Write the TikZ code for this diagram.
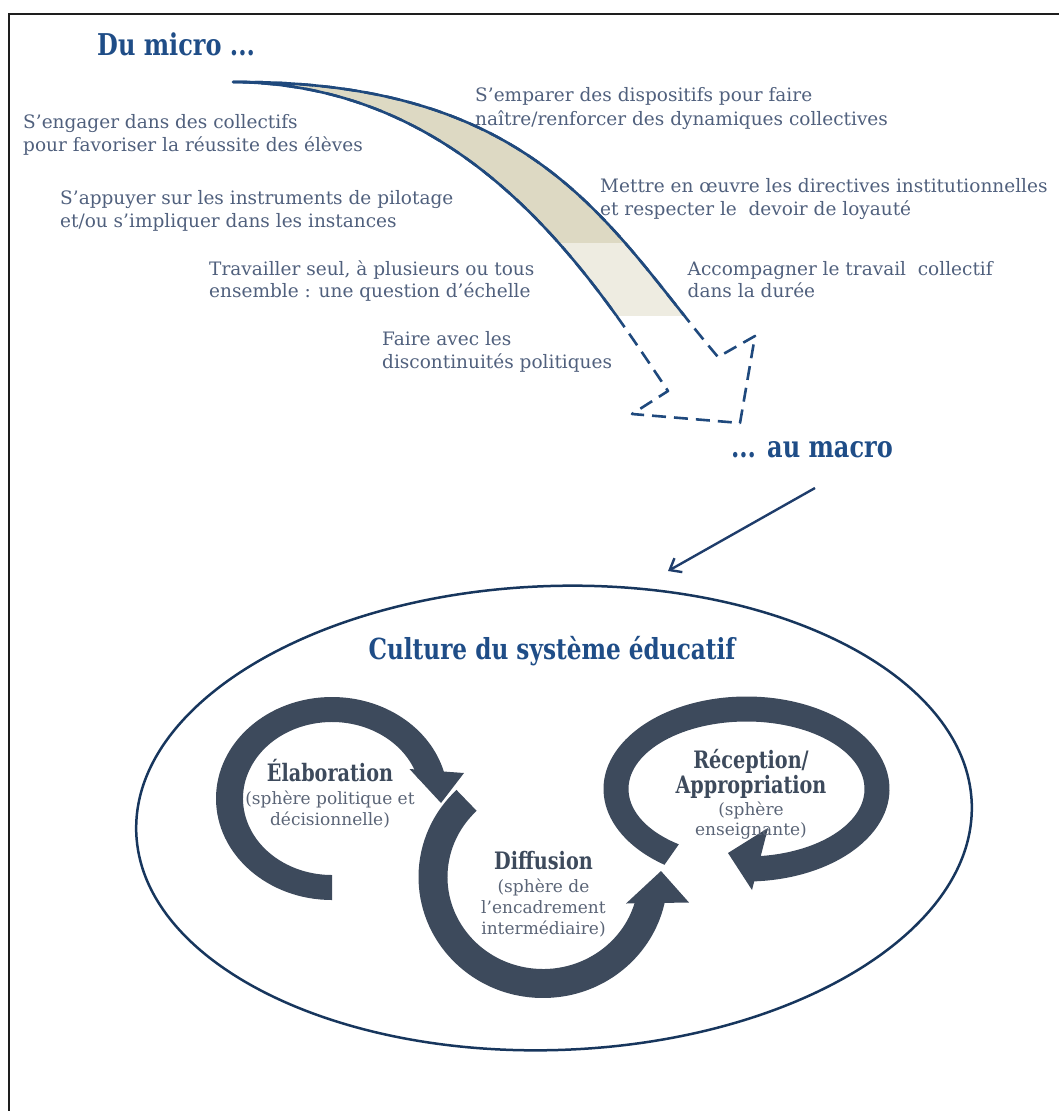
\documentclass[tikz,border=0pt]{standalone}
\usepackage{fontspec}
\setmainfont{DejaVu Serif}
\newfontfamily\titlefont{DejaVu Serif}[FakeStretch=0.8]
\usetikzlibrary{arrows.meta}
\definecolor{bodyc}{HTML}{50607D}
\definecolor{ttlc}{HTML}{1F4D87}
\definecolor{arrowc}{HTML}{1F497D}
\definecolor{ellc}{HTML}{17365D}
\definecolor{ringc}{HTML}{3D4A5C}
\definecolor{subc}{HTML}{5A6476}
\definecolor{tanD}{HTML}{DDD9C3}
\definecolor{tanL}{HTML}{EEECE1}
\definecolor{framec}{HTML}{1E1E1E}
\definecolor{linkc}{HTML}{1F3D6B}
\newcommand\bigarrowpath{(233,82) .. controls (540,80) and (610,230) .. (718,357) -- (755,336) -- (740,423) -- (632,414) -- (668,391) .. controls (590,275) and (470,84) .. (233,82) -- cycle}
\begin{document}
\begin{tikzpicture}[x=1pt,y=1pt,yscale=-1,
  bodytxt/.style={font=\fontsize{18.5}{23}\selectfont, text=bodyc, anchor=base west, inner sep=0pt},
  ttl/.style={font=\titlefont\bfseries\fontsize{30}{36}\selectfont, text=ttlc, inner sep=0pt},
  rlab/.style={font=\titlefont\bfseries\fontsize{24}{28}\selectfont, text=ringc, anchor=base, inner sep=0pt},
  rsub/.style={font=\fontsize{17}{21}\selectfont, text=subc, anchor=base, inner sep=0pt},
  ringfill/.style={fill=ringc},
  outline/.style={draw=arrowc, line width=2.6pt, line join=round},
]
\useasboundingbox (0,0) rectangle (1058,1111);
% frame
\draw[framec, line width=2.2pt] (1062,14) -- (9,14) -- (9,1115);
% big ellipse
\draw[ellc, line width=2.5pt, rotate around={-2:(554,818)}] (554,818) ellipse[x radius=418, y radius=232];
% big curved arrow
\begin{scope}
  \clip (0,0) rectangle (1058,243);
  \fill[tanD] \bigarrowpath;
\end{scope}
\begin{scope}
  \clip (0,243) rectangle (1058,315);
  \fill[tanL] \bigarrowpath;
\end{scope}
\draw[outline, dash pattern=on 14pt off 8pt] \bigarrowpath;
\begin{scope}
  \clip (0,0) rectangle (1058,315);
  \draw[outline] \bigarrowpath;
\end{scope}
% link arrow
\coordinate (lkS) at (815,488);
\coordinate (lkE) at (668,571);
\draw[linkc, line width=2.4pt, -{Straight Barb[length=10pt,width=16pt]}] (lkS) -- (lkE);
% ring 1
\fill[ringfill] ([shift={(90:116 and 101.5)}]332,798.5) arc[start angle=90, end angle=345, x radius=116, y radius=101.5]
  -- ([shift={(345:89 and 76.5)}]332,798.5) arc[start angle=345, end angle=90, x radius=89, y radius=76.5] -- cycle;
\fill[ringfill] (409.5,769) -- (464,773) -- (441,803) -- cycle;
% ring 2
\fill[ringfill] ([shift={(226:124.5 and 121)}]543,877) arc[start angle=226, end angle=11, x radius=124.5, y radius=121]
  -- ([shift={(11:95.5 and 92)}]543,877) arc[start angle=11, end angle=226, x radius=95.5, y radius=92] -- cycle;
\fill[ringfill] (626,903.5) -- (661,871) -- (689,902.5) -- cycle;
% ring 3
\fill[ringfill] ([shift={(125:143 and 92.5)}]746.5,789) arc[start angle=125, end angle=448, x radius=143, y radius=92.5]
  -- ([shift={(448:118 and 67.5)}]746.5,789) arc[start angle=448, end angle=125, x radius=118, y radius=67.5] -- cycle;
\fill[ringfill] (768,828) -- (728,853) -- (752,890) -- cycle;
% titles
\node[ttl, anchor=base west] (t1) at (97,55) {Du micro ...};
\node[ttl, anchor=base east] (t2) at (893,457) {... au macro};
\node[ttl, anchor=base, font=\titlefont\bfseries\fontsize{29}{34}\selectfont] (t3) at (552,659) {Culture du système éducatif};
% body texts
\node[bodytxt] (a1) at (23,128) {S’engager dans des collectifs};
\node[bodytxt] (a2) at (23,151.5) {pour favoriser la réussite des élèves};
\node[bodytxt] (b1) at (60,204) {S’appuyer sur les instruments de pilotage};
\node[bodytxt] (b2) at (60,227) {et/ou s’impliquer dans les instances};
\node[bodytxt] (c1) at (475,101.5) {S’emparer des dispositifs pour faire};
\node[bodytxt] (c2) at (475,125) {naître/renforcer des dynamiques collectives};
\node[bodytxt] (d1) at (600,192) {Mettre en œuvre les directives institutionnelles};
\node[bodytxt] (d2) at (600,215) {et respecter le\ \ devoir de loyauté};
\node[bodytxt] (e1) at (209,275) {Travailler seul, à plusieurs ou tous};
\node[bodytxt] (e2) at (209,297.5) {ensemble : une question d’échelle};
\node[bodytxt] (f1) at (687.5,275) {Accompagner le travail\ \ collectif};
\node[bodytxt] (f2) at (687.5,297.5) {dans la durée};
\node[bodytxt] (g1) at (382,345) {Faire avec les};
\node[bodytxt] (g2) at (382,368) {discontinuités politiques};
% ring labels
\node[rlab] (l1a) at (330,781) {Élaboration};
\node[rsub] (l1b) at (330,804) {(sphère politique et};
\node[rsub] (l1c) at (330,825) {décisionnelle)};
\node[rlab] (l2a) at (543.5,869) {Diffusion};
\node[rsub] (l2b) at (543.5,892.5) {(sphère de};
\node[rsub] (l2c) at (543.5,913.5) {l’encadrement};
\node[rsub] (l2d) at (543.5,934) {intermédiaire)};
\node[rlab] (l3a) at (751,768.5) {Réception/};
\node[rlab] (l3b) at (751,793) {Appropriation};
\node[rsub] (l3c) at (751,815) {(sphère};
\node[rsub] (l3d) at (751,835.5) {enseignante)};
\end{tikzpicture}
\end{document}
